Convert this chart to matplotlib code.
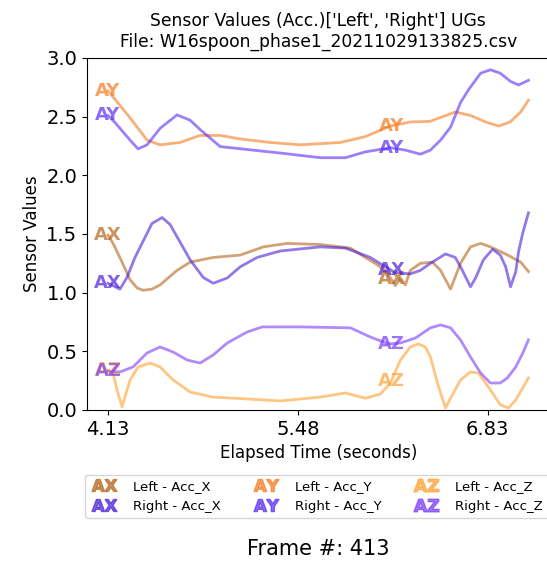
import numpy as np
import matplotlib.pyplot as plt
from matplotlib.lines import Line2D

# Left / Right accelerometer traces (seconds, sensor value)
t_lx = [4.13, 4.166, 4.23, 4.287, 4.337, 4.38, 4.443, 4.50, 4.621, 4.714, 4.878, 5.07, 5.234, 5.405,
        5.64, 5.854, 5.96, 6.03, 6.10, 6.138, 6.174, 6.21, 6.245, 6.28, 6.352, 6.437, 6.495, 6.566,
        6.637, 6.708, 6.78, 6.85, 6.957, 7.065, 7.12]
v_lx = [1.49, 1.42, 1.26, 1.11, 1.04, 1.02, 1.03, 1.066, 1.19, 1.26, 1.30, 1.32, 1.39, 1.42,
        1.41, 1.38, 1.30, 1.25, 1.19, 1.125, 1.06, 1.125, 1.066, 1.19, 1.25, 1.26, 1.19, 1.03,
        1.25, 1.39, 1.42, 1.39, 1.33, 1.26, 1.18]

t_ly = [4.13, 4.166, 4.287, 4.408, 4.50, 4.643, 4.785, 4.928, 5.07, 5.284, 5.498, 5.782, 5.96,
        6.138, 6.281, 6.42, 6.60, 6.708, 6.815, 6.908, 6.99, 7.065, 7.12]
v_ly = [2.72, 2.668, 2.49, 2.30, 2.26, 2.28, 2.34, 2.34, 2.31, 2.28, 2.26, 2.28, 2.33,
        2.42, 2.455, 2.46, 2.54, 2.51, 2.455, 2.42, 2.455, 2.54, 2.64]

t_lz = [4.13, 4.166, 4.194, 4.23, 4.25, 4.287, 4.344, 4.43, 4.50, 4.593, 4.714, 4.878, 5.12, 5.355,
        5.64, 5.818, 5.96, 6.067, 6.138, 6.21, 6.28, 6.337, 6.387, 6.423, 6.473, 6.53, 6.566,
        6.637, 6.708, 6.765, 6.85, 6.92, 6.978, 7.03, 7.08, 7.12]
v_lz = [0.34, 0.315, 0.17, 0.026, 0.11, 0.256, 0.367, 0.40, 0.367, 0.256, 0.153, 0.11, 0.094, 0.077,
        0.11, 0.145, 0.10, 0.136, 0.23, 0.426, 0.537, 0.563, 0.537, 0.452, 0.23, 0.017, 0.10,
        0.256, 0.324, 0.315, 0.17, 0.043, 0.017, 0.085, 0.19, 0.273]

t_rx = [4.13, 4.215, 4.265, 4.322, 4.372, 4.443, 4.515, 4.572, 4.643, 4.714, 4.807, 4.878, 4.978,
        5.07, 5.19, 5.355, 5.64, 5.818, 5.996, 6.103, 6.174, 6.28, 6.352, 6.423, 6.53, 6.60, 6.65,
        6.708, 6.744, 6.80, 6.865, 6.92, 6.958, 6.993, 7.03, 7.05, 7.08, 7.12]
v_rx = [1.08, 1.03, 1.13, 1.30, 1.42, 1.59, 1.64, 1.58, 1.43, 1.28, 1.13, 1.08, 1.125,
        1.22, 1.30, 1.355, 1.39, 1.38, 1.30, 1.22, 1.17, 1.16, 1.19, 1.25, 1.33, 1.30, 1.19,
        1.05, 1.125, 1.28, 1.37, 1.32, 1.22, 1.05, 1.18, 1.35, 1.51, 1.68]

t_ry = [4.13, 4.18, 4.287, 4.344, 4.408, 4.50, 4.621, 4.714, 4.785, 4.928, 5.12, 5.355, 5.64, 5.818,
        5.96, 6.138, 6.245, 6.352, 6.423, 6.495, 6.566, 6.637, 6.694, 6.78, 6.85, 6.92, 6.993,
        7.05, 7.12]
v_ry = [2.51, 2.45, 2.30, 2.225, 2.26, 2.40, 2.515, 2.47, 2.39, 2.245, 2.22, 2.19, 2.15, 2.15,
        2.20, 2.235, 2.215, 2.18, 2.215, 2.30, 2.41, 2.62, 2.73, 2.87, 2.90, 2.87, 2.80,
        2.77, 2.81]

t_rz = [4.13, 4.215, 4.308, 4.408, 4.50, 4.593, 4.693, 4.785, 4.878, 4.978, 5.12, 5.227, 5.498,
        5.854, 5.996, 6.124, 6.21, 6.317, 6.423, 6.495, 6.566, 6.637, 6.708, 6.78, 6.85, 6.92,
        6.97, 7.03, 7.08, 7.12]
v_rz = [0.33, 0.324, 0.367, 0.486, 0.537, 0.494, 0.426, 0.40, 0.469, 0.571, 0.665, 0.708, 0.708,
        0.70, 0.622, 0.563, 0.571, 0.614, 0.70, 0.725, 0.70, 0.597, 0.452, 0.315, 0.23, 0.23,
        0.273, 0.367, 0.486, 0.597]

frame_no = 413
t_frame = 6.145
xticks = [4.13, 5.48, 6.83]

series = [
    ('AX', 'Left - Acc_X', t_lx, v_lx, '#b5651d'),
    ('AX', 'Right - Acc_X', t_rx, v_rx, '#4b1fd8'),
    ('AY', 'Left - Acc_Y', t_ly, v_ly, '#f57a1e'),
    ('AY', 'Right - Acc_Y', t_ry, v_ry, '#5a2cf5'),
    ('AZ', 'Left - Acc_Z', t_lz, v_lz, '#ffa030'),
    ('AZ', 'Right - Acc_Z', t_rz, v_rz, '#7a3cf5'),
]

fig = plt.figure(figsize=(5.47, 5.62), dpi=100)
ax = fig.add_axes([0.159, 0.2705, 0.8455, 0.6263])

handles = []
for tag, name, t, v, col in series:
    ax.plot(t, v, color=col, lw=2, alpha=0.6)
    # label at start and at current frame
    ax.text(t[0], v[0], tag, color=col, alpha=0.7, fontsize=13, fontweight='bold',
            ha='center', va='center')
    ax.text(t_frame, np.interp(t_frame, t, v), tag, color=col, alpha=0.7, fontsize=13,
            fontweight='bold', ha='center', va='center')
    handles.append(Line2D([], [], marker=r'$\mathbf{%s}$' % tag, linestyle='None',
                          markersize=18, color=col, alpha=0.7, label=name))

ax.set_ylim(0, 3.0)
ax.set_xticks(xticks)
ax.set_xticklabels([f'{x:.2f}' for x in xticks])
ax.tick_params(labelsize=14)
ax.spines['right'].set_visible(False)
ax.set_title("Sensor Values (Acc.)['Left', 'Right'] UGs\nFile: W16spoon_phase1_20211029133825.csv",
             fontsize=12.3, pad=8)
ax.set_xlabel('Elapsed Time (seconds)', fontsize=12, labelpad=4)
ax.set_ylabel('Sensor Values', fontsize=12)

ax.legend(handles=handles, loc='upper center', bbox_to_anchor=(0.497, -0.165), ncol=3,
          fontsize=9.5, handlelength=2.0, columnspacing=2.4, handletextpad=1.2)

fig.text(0.581, 0.012, f'Frame #: {frame_no}', ha='center', fontsize=15)

plt.savefig('out.png', dpi=100)
